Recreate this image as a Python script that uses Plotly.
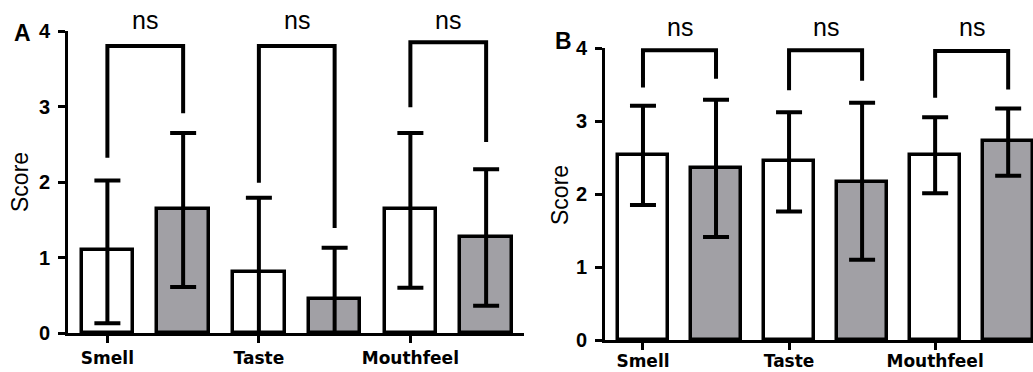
import plotly.graph_objects as go

categories = ["Smell", "Taste", "Mouthfeel"]

# Panel A
a_white = [1.10, 0.81, 1.64]
a_white_up = [0.92, 0.98, 1.01]
a_white_dn = [0.97, 0.98, 1.04]
a_gray = [1.64, 0.45, 1.27]
a_gray_up = [1.01, 0.68, 0.90]
a_gray_dn = [1.03, 0.68, 0.91]
a_br_top = [3.80, 3.80, 3.85]
a_br_left = [2.32, 1.99, 2.99]
a_br_right = [2.91, 1.39, 2.53]
a_ns_y = 4.15

# Panel B
b_white = [2.53, 2.45, 2.53]
b_white_up = [0.68, 0.67, 0.52]
b_white_dn = [0.68, 0.69, 0.52]
b_gray = [2.35, 2.17, 2.72]
b_gray_up = [0.94, 1.08, 0.45]
b_gray_dn = [0.94, 1.07, 0.47]
b_br_top = [3.97, 3.97, 3.96]
b_br_left = [3.46, 3.42, 3.32]
b_br_right = [3.58, 3.55, 3.43]
b_ns_y = 4.29

y_ticks = [0, 1, 2, 3, 4]
y_max = 4
sig_label = "ns"

GRAY = "rgb(161,160,165)"
BLACK = "black"
LW = 3.5
AW = 3
EW = 4
BAR_W = 0.68

white_pos = [2 * i for i in range(len(categories))]
gray_pos = [2 * i + 1 for i in range(len(categories))]

fig = go.Figure()


def add_panel(xa, ya, white, wup, wdn, gray, gup, gdn):
    for pos, vals, up, dn, col in [
        (white_pos, white, wup, wdn, "white"),
        (gray_pos, gray, gup, gdn, GRAY),
    ]:
        fig.add_trace(go.Bar(
            x=pos, y=vals, width=BAR_W, xaxis=xa, yaxis=ya,
            marker=dict(color=col, line=dict(color=BLACK, width=LW)),
            error_y=dict(type="data", symmetric=False, array=up, arrayminus=dn,
                         color=BLACK, thickness=EW, width=13),
            showlegend=False, hoverinfo="skip",
        ))


add_panel("x", "y", a_white, a_white_up, a_white_dn, a_gray, a_gray_up, a_gray_dn)
add_panel("x2", "y2", b_white, b_white_up, b_white_dn, b_gray, b_gray_up, b_gray_dn)

shapes = []
annotations = []


def add_brackets(xr, yr, tops, lefts, rights, ns_y):
    for i in range(len(categories)):
        x0, x1 = white_pos[i], gray_pos[i]
        shapes.append(dict(
            type="path", xref=xr, yref=yr,
            path=f"M {x0},{lefts[i]} L {x0},{tops[i]} L {x1},{tops[i]} L {x1},{rights[i]}",
            line=dict(color=BLACK, width=EW),
        ))
        annotations.append(dict(
            x=(x0 + x1) / 2, y=ns_y / y_max, xref=xr, yref=yr + " domain", text=sig_label,
            showarrow=False, font=dict(family="Liberation Sans", size=25, color=BLACK),
            xanchor="center", yanchor="middle",
        ))


add_brackets("x", "y", a_br_top, a_br_left, a_br_right, a_ns_y)
add_brackets("x2", "y2", b_br_top, b_br_left, b_br_right, b_ns_y)

# Panel letters and axis titles
for txt, x, y in [("A", 22, 33), ("B", 563, 41)]:
    annotations.append(dict(
        x=x / 1033, y=1 - y / 372, xref="paper", yref="paper", text=txt,
        showarrow=False, xanchor="center", yanchor="middle",
        font=dict(family="Liberation Sans", size=23, color=BLACK, weight="bold"),
    ))
for x, y in [(20, 182), (560, 195)]:
    annotations.append(dict(
        x=x / 1033, y=1 - y / 372, xref="paper", yref="paper", text="Score",
        textangle=-90, showarrow=False, xanchor="center", yanchor="middle",
        font=dict(family="Liberation Sans", size=23, color=BLACK, weight=500),
    ))

xaxis_common = dict(
    tickvals=white_pos, ticktext=categories, showline=True, linecolor=BLACK,
    linewidth=AW, ticks="outside", ticklen=7, tickwidth=AW, tickcolor=BLACK,
    showgrid=False, zeroline=False, automargin=False,
    tickfont=dict(family="DejaVu Sans", size=17, color=BLACK, weight="bold"),
)
yaxis_common = dict(
    range=[0, y_max], tickvals=y_ticks, showline=True, linecolor=BLACK,
    linewidth=AW, ticks="outside", ticklen=7, tickwidth=AW, tickcolor=BLACK,
    showgrid=False, zeroline=False, ticklabelstandoff=4, automargin=False,
    tickfont=dict(family="Liberation Sans", size=20, color=BLACK, weight="bold"),
)

fig.update_layout(
    width=1033, height=372, margin=dict(l=0, r=0, t=0, b=0, autoexpand=False),
    paper_bgcolor="white", plot_bgcolor="white",
    xaxis=dict(xaxis_common, domain=[68 / 1033, 524 / 1033], range=[-0.52, 5.5],
               anchor="y", ticklabelstandoff=1),
    yaxis=dict(yaxis_common, domain=[1 - 333 / 372, 1 - 31 / 372], anchor="x"),
    xaxis2=dict(xaxis_common, domain=[605 / 1033, 1.0], range=[-0.52, 5.34],
                anchor="y2", ticklabelstandoff=-3),
    yaxis2=dict(yaxis_common, domain=[1 - 340 / 372, 1 - 48 / 372], anchor="x2"),
    shapes=shapes, annotations=annotations, bargap=0,
)

fig.write_html("out.html")
